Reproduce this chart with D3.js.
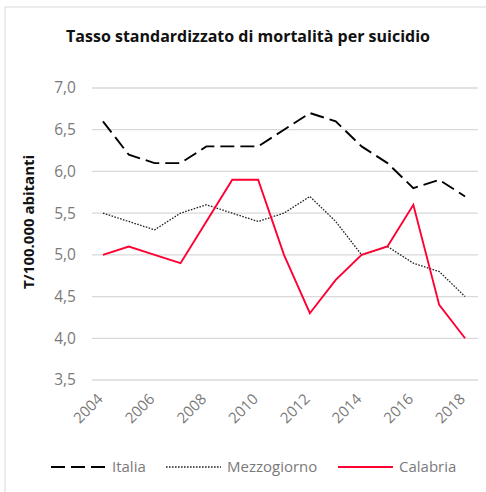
<!DOCTYPE html>
<html>
<head>
<meta charset="utf-8">
<script src="https://cdn.jsdelivr.net/npm/d3@7"></script>
<style>
  body { margin: 0; background: #fff; }
  text { font-family: "Open Sans", "Liberation Sans", sans-serif; }
</style>
</head>
<body>
<script>
// Data
const years = d3.range(2004, 2019);
const tickYears = [2004, 2006, 2008, 2010, 2012, 2014, 2016, 2018];
const italia = [6.6, 6.2, 6.1, 6.1, 6.3, 6.3, 6.3, 6.5, 6.7, 6.6, 6.3, 6.1, 5.8, 5.9, 5.7];
const mezzogiorno = [5.5, 5.4, 5.3, 5.5, 5.6, 5.5, 5.4, 5.5, 5.7, 5.4, 5.0, 5.1, 4.9, 4.8, 4.5];
const calabria = [5.0, 5.1, 5.0, 4.9, 5.4, 5.9, 5.9, 5.0, 4.3, 4.7, 5.0, 5.1, 5.6, 4.4, 4.0];
const yTicks = [3.5, 4.0, 4.5, 5.0, 5.5, 6.0, 6.5, 7.0];

const series = [
  { name: 'Italia', values: italia, color: '#000', dash: '14,6', width: 1.9 },
  { name: 'Mezzogiorno', values: mezzogiorno, color: '#222', dash: '1.6,1.4', width: 1.3 },
  { name: 'Calabria', values: calabria, color: '#ff0033', dash: null, width: 1.9 }
];

const width = 486;
const height = 492;
const margin = { left: 90, right: 8, top: 88, bottom: 112 };

const svg = d3.select('body').append('svg')
  .attr('width', width)
  .attr('height', height);

// frame (only top and left are visible in the picture)
svg.append('line').attr('x1', 5).attr('x2', width).attr('y1', 7).attr('y2', 7)
  .attr('stroke', '#d9d9d9');
svg.append('line').attr('x1', 5).attr('x2', 5).attr('y1', 7).attr('y2', height)
  .attr('stroke', '#d9d9d9');

const x = d3.scalePoint()
  .domain(years)
  .range([margin.left, width - margin.right])
  .padding(0.5);

const y = d3.scaleLinear()
  .domain([3.5, 7.0])
  .range([height - margin.bottom, margin.top]);

// Gridlines
svg.append('g')
  .selectAll('line')
  .data(yTicks)
  .enter().append('line')
  .attr('x1', margin.left + 2)
  .attr('x2', width - margin.right)
  .attr('y1', d => y(d))
  .attr('y2', d => y(d))
  .attr('stroke', '#d9d9d9')
  .attr('stroke-width', 1.3);

// Y axis labels
const fmt = d => d3.format('.1f')(d).replace('.', ',');
svg.append('g')
  .selectAll('text')
  .data(yTicks)
  .enter().append('text')
  .attr('x', 76)
  .attr('y', d => y(d))
  .attr('dy', '0.35em')
  .attr('text-anchor', 'end')
  .attr('fill', '#7a7a7a')
  .style('font-size', '15.5px')
  .text(fmt);

// X axis labels
svg.append('g')
  .selectAll('text')
  .data(tickYears)
  .enter().append('text')
  .attr('transform', d => `translate(${x(d) + 1},${y(3.5) + 20}) rotate(-45)`)
  .attr('text-anchor', 'end')
  .attr('fill', '#7a7a7a')
  .style('font-size', '15px')
  .text(d => d);

// Lines
const line = d3.line()
  .x((d, i) => x(years[i]))
  .y(d => y(d));

svg.append('g')
  .selectAll('path')
  .data(series)
  .enter().append('path')
  .attr('d', d => line(d.values))
  .attr('fill', 'none')
  .attr('stroke', d => d.color)
  .attr('stroke-width', d => d.width)
  .attr('stroke-dasharray', d => d.dash);

// Title
svg.append('text')
  .attr('x', 248)
  .attr('y', 42)
  .attr('text-anchor', 'middle')
  .style('font-size', '16px')
  .style('font-weight', 'bold')
  .attr('fill', '#111')
  .text('Tasso standardizzato di mortalità per suicidio');

// Y axis title
svg.append('text')
  .attr('transform', 'translate(34,222) rotate(-90)')
  .attr('text-anchor', 'middle')
  .style('font-size', '15px')
  .style('font-weight', 'bold')
  .attr('fill', '#111')
  .text('T/100.000 abitanti');

// Legend
const legendX = [51, 166, 338];
const legend = svg.append('g')
  .selectAll('g')
  .data(series)
  .enter().append('g')
  .attr('transform', (d, i) => `translate(${legendX[i]},467)`);

legend.append('line')
  .attr('x1', 0).attr('x2', 55)
  .attr('stroke', d => d.color)
  .attr('stroke-width', d => d.width)
  .attr('stroke-dasharray', d => d.dash);

legend.append('text')
  .attr('x', 61)
  .attr('dy', '0.35em')
  .attr('fill', '#7a7a7a')
  .style('font-size', '15px')
  .text(d => d.name);
</script>
</body>
</html>
